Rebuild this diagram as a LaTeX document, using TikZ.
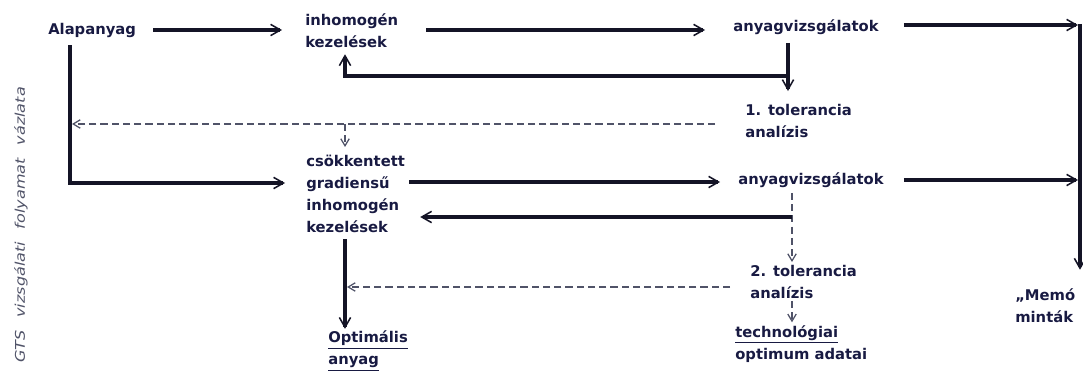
\documentclass[tikz,border=0pt]{standalone}
\usepackage{fontspec}
\setsansfont{DejaVu Sans}
\usetikzlibrary{arrows.meta,positioning,calc}
\definecolor{ink}{RGB}{24,26,66}
\definecolor{lineink}{RGB}{20,20,38}
\definecolor{dashink}{RGB}{80,83,104}

\tikzset{
  box/.style={anchor=west,align=left,inner sep=0pt,text=ink,
    font=\sffamily\bfseries\fontsize{10.5}{15.6}\selectfont},
  flow/.style={draw=lineink,line width=2.2pt,
    -{Straight Barb[length=7pt,width=8pt,line width=1.1pt]}},
  hint/.style={draw=dashink,line width=1.1pt,dash pattern=on 5pt off 3pt,
    -{Straight Barb[length=5pt,width=6pt,line width=0.9pt]}},
  sidenote/.style={rotate=90,inner sep=0pt,text=dashink,
    font=\sffamily\itshape\fontsize{9.5}{11}\selectfont}
}

\begin{document}
\begin{tikzpicture}[x=0.025cm,y=-0.025cm]
  \useasboundingbox (0,0) rectangle (1083,385);
  % side caption
  \node[sidenote] (cap) at (21,225)
    {\scalebox{1.2}[1]{GTS\hspace{0.8em}vizsgálati\hspace{0.8em}folyamat\hspace{0.8em}vázlata}};

  % first pass
  \node[box] (alap)  at (48,30)   {Alapanyag};
  \node[box] (inh1)  at (305,31)  {inhomogén\\kezelések};
  \node[box] (vizs1) at (733,27)  {anyagvizsgálatok};
  \node[box] (tol1)  at (745,121) {1. tolerancia\\analízis};

  % second pass
  \node[box] (csok)  at (306,194) {csökkentett\\gradiensű\\inhomogén\\kezelések};
  \node[box] (vizs2) at (738,180) {anyagvizsgálatok};
  \node[box] (tol2)  at (750,282) {2. tolerancia\\analízis};

  % results
  \node[box] (opt)   at (328,351) {\underline{Optimális}\\\underline{anyag}};
  \node[box] (techn) at (735,344) {\underline{technológiai}\\optimum adatai};
  \node[box] (memo)  at (1015,306) {„Memó\\minták};

  % junctions
  \coordinate (j1)  at (788,76);
  \coordinate (j2)  at (792,217);
  \coordinate (lt)  at ($(alap.south west)+(22,8)$);
  \coordinate (rt1) at (1078,25);
  \coordinate (rt2) at (1078,180);
  \coordinate (rtop) at (1080,24);

  % main flow
  \draw[flow] ($(alap.east)+(17,0)$) -- ($(inh1.west|-alap.east)+(-23,0)$);
  \draw[flow] ($(inh1.east)+(28,-1)$) -- ($(vizs1.west|-inh1.east)+(-28,-1)$);
  \draw[flow] ($(vizs1.east)+(25,-2)$) -- (rt1);
  \draw[flow] (rtop) -- ($(rtop|-memo.north)+(0,-19)$);
  \draw[flow] ($(vizs1.south-|j1)+(0,8)$) -- ($(tol1.north-|j1)+(0,-13)$);
  \draw[flow] (j1) -| ($(inh1.south west)+(40,6)$);

  % feedback of the first tolerance analysis
  \draw[hint] ($(tol1.west)+(-30,3)$) -- ($(tol1.west-|lt)+(2,3)$);
  \draw[hint] ($(tol1.west-|csok.west)+(39,3)$) -- ($(csok.north west)+(39,-8)$);
  \draw[flow] (lt) |- ($(csok.west)+(-21,-11)$);

  % second loop
  \draw[flow] ($(csok.east)+(4,-12)$) -- ($(vizs2.west|-csok.east)+(-18,-12)$);
  \draw[flow] ($(vizs2.east)+(20,0)$) -- (rt2);
  \draw[hint] ($(vizs2.south-|j2)+(0,5)$) -- ($(tol2.north-|j2)+(0,-3)$);
  \draw[flow] (j2) -- ($(csok.east|-j2)+(15,0)$);
  \draw[hint] ($(tol2.west)+(-20,5)$) -- ($(tol2.west-|csok.west)+(41,5)$);
  \draw[flow] ($(csok.south west)+(39,6)$) -- ($(opt.north west)+(17,-2)$);
  \draw[hint] ($(tol2.south-|j2)+(0,2)$) -- ($(techn.north-|j2)+(0,-3)$);
\end{tikzpicture}
\end{document}
